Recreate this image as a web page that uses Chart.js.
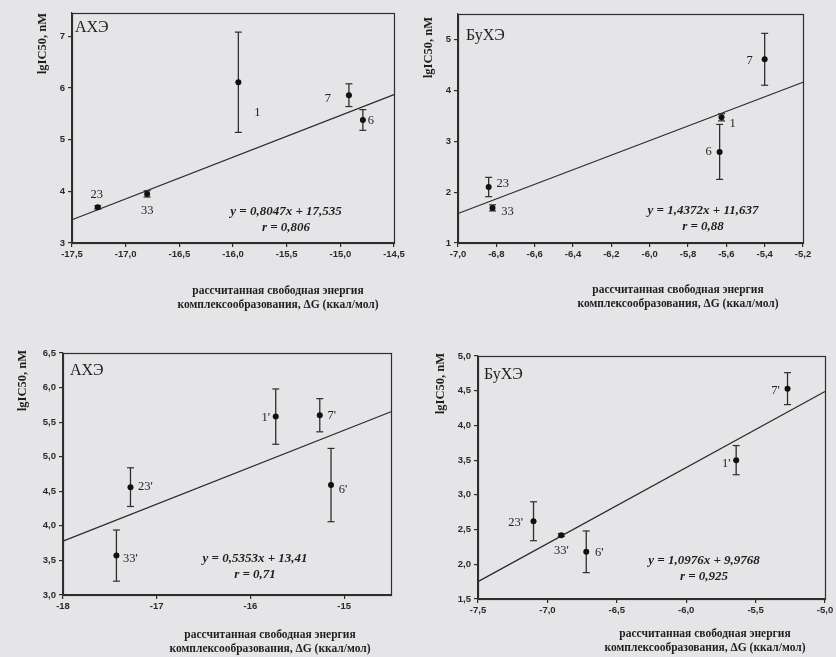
<!DOCTYPE html>
<html>
<head>
<meta charset="utf-8">
<script src="https://cdn.jsdelivr.net/npm/chart.js@4.4.0/dist/chart.umd.min.js"></script>
<style>
    html, body { margin: 0; padding: 0; background: #e5e5e7; }
    #page { position: relative; width: 836px; height: 657px; overflow: hidden; }
    canvas { position: absolute; }
</style>
</head>
<body>
<div id="page">
    <canvas id="c1" width="418" height="328" style="left:0;top:0"></canvas>
    <canvas id="c2" width="418" height="328" style="left:418px;top:0"></canvas>
    <canvas id="c3" width="418" height="329" style="left:0;top:328px"></canvas>
    <canvas id="c4" width="418" height="329" style="left:418px;top:328px"></canvas>
</div>
<script>
// top left: АХЭ
const aCompounds = ['23', '33', '1', '7', '6'];
const aEnergy = [-17.26, -16.80, -15.95, -14.92, -14.79];
const aLgIC50 = [3.69, 3.95, 6.11, 5.86, 5.38];
const aError = [0.03, 0.06, 0.97, 0.22, 0.20];
const aFitX = [-17.5, -14.5];
const aFitY = [3.45, 5.87];
const aXTicks = [-17.5, -17.0, -16.5, -16.0, -15.5, -15.0, -14.5];
const aYTicks = [3, 4, 5, 6, 7];
const aEquation = ['y = 0,8047x + 17,535', 'r = 0,806'];

// top right: БуХЭ
const bCompounds = ['7', '1', '6', '23', '33'];
const bEnergy = [-5.40, -5.625, -5.635, -6.84, -6.82];
const bLgIC50 = [4.61, 3.47, 2.79, 2.10, 1.69];
const bError = [0.51, 0.07, 0.54, 0.19, 0.06];
const bFitX = [-7.0, -5.2];
const bFitY = [1.58, 4.16];
const bXTicks = [-7.0, -6.8, -6.6, -6.4, -6.2, -6.0, -5.8, -5.6, -5.4, -5.2];
const bYTicks = [1, 2, 3, 4, 5];
const bEquation = ['y = 1,4372x + 11,637', 'r = 0,88'];

// bottom left: АХЭ, primed compounds
const cCompounds = ["33'", "23'", "1'", "7'", "6'"];
const cEnergy = [-17.43, -17.28, -15.73, -15.26, -15.14];
const cLgIC50 = [3.57, 4.56, 5.58, 5.60, 4.59];
const cError = [0.37, 0.28, 0.40, 0.24, 0.53];
const cFitX = [-18.0, -14.5];
const cFitY = [3.78, 5.65];
const cXTicks = [-18, -17, -16, -15];
const cYTicks = [3.0, 3.5, 4.0, 4.5, 5.0, 5.5, 6.0, 6.5];
const cEquation = ['y = 0,5353x + 13,41', 'r = 0,71'];

// bottom right: БуХЭ, primed compounds
const dCompounds = ["23'", "33'", "6'", "1'", "7'"];
const dEnergy = [-7.10, -6.90, -6.72, -5.64, -5.27];
const dLgIC50 = [2.62, 2.42, 2.18, 3.50, 4.53];
const dError = [0.28, 0.02, 0.30, 0.21, 0.23];
const dFitX = [-7.5, -5.0];
const dFitY = [1.75, 4.49];
const dXTicks = [-7.5, -7.0, -6.5, -6.0, -5.5, -5.0];
const dYTicks = [1.5, 2.0, 2.5, 3.0, 3.5, 4.0, 4.5, 5.0];
const dEquation = ['y = 1,0976x + 9,9768', 'r = 0,925'];

const yTitle = 'lgIC50, nM';
const xTitle = ['рассчитанная свободная энергия', 'комплексообразования, ΔG (ккал/мол)'];

const INK = '#1e1e1e';
const LINE = '#2e2e2e';
const SERIF = '"Liberation Serif", "Times New Roman", serif';
const SANS = '"Liberation Sans", Arial, sans-serif';

const panels = [
    {
        id: 'c1', name: 'АХЭ', names: aCompounds, x: aEnergy, y: aLgIC50, err: aError,
        fitX: aFitX, fitY: aFitY, xTicks: aXTicks, yTicks: aYTicks, eq: aEquation,
        xRange: [-17.5, -14.5], yRange: [3, 7.45], xDec: 1, yDec: 0,
        area: { l: 72, t: 13, r: 394, b: 243 },
        labelOff: [[-1, -13], [0, 17], [19, 30], [-21, 4], [8, 1]],
        namePos: [75, 28], eqPos: [286, 212], yTitlePos: [43, 13], xTitlePos: [278, 291]
    },
    {
        id: 'c2', name: 'БуХЭ', names: bCompounds, x: bEnergy, y: bLgIC50, err: bError,
        fitX: bFitX, fitY: bFitY, xTicks: bXTicks, yTicks: bYTicks, eq: bEquation,
        xRange: [-7.0, -5.2], yRange: [1, 5.5], xDec: 1, yDec: 0,
        area: { l: 40, t: 14, r: 385, b: 243 },
        labelOff: [[-15, 1], [11, 6], [-11, 0], [14, -3], [15, 4]],
        namePos: [48, 36], eqPos: [285, 211], yTitlePos: [11, 17], xTitlePos: [260, 290]
    },
    {
        id: 'c3', name: 'АХЭ', names: cCompounds, x: cEnergy, y: cLgIC50, err: cError,
        fitX: cFitX, fitY: cFitY, xTicks: cXTicks, yTicks: cYTicks, eq: cEquation,
        xRange: [-18, -14.5], yRange: [3.0, 6.5], xDec: 0, yDec: 1,
        area: { l: 63, t: 25, r: 391, b: 267 },
        labelOff: [[14, 3], [15, 0], [-10, 1], [12, 0], [12, 5]],
        namePos: [70, 43], eqPos: [255, 231], yTitlePos: [23, 22], xTitlePos: [270, 307]
    },
    {
        id: 'c4', name: 'БуХЭ', names: dCompounds, x: dEnergy, y: dLgIC50, err: dError,
        fitX: dFitX, fitY: dFitY, xTicks: dXTicks, yTicks: dYTicks, eq: dEquation,
        xRange: [-7.5, -5.0], yRange: [1.5, 5.0], xDec: 1, yDec: 1,
        area: { l: 60, t: 28, r: 407, b: 271 },
        labelOff: [[-18, 1], [0, 16], [13, 1], [-10, 4], [-12, 2]],
        namePos: [66, 47], eqPos: [286, 233], yTitlePos: [23, 25], xTitlePos: [287, 306]
    }
];

function fmt(dec) {
    return (v) => Number(v).toFixed(dec).replace('.', ',');
}

const decor = {
    id: 'decor',
    afterDraw(chart) {
        const p = chart.config.options.panel;
        const ctx = chart.ctx;
        const xs = chart.scales.x, ys = chart.scales.y;
        const ca = chart.chartArea;
        ctx.save();
        // full box frame
        ctx.strokeStyle = LINE;
        ctx.lineWidth = 1.2;
        ctx.strokeRect(Math.round(ca.left) + 0.5, Math.round(ca.top) + 0.5,
            Math.round(ca.right - ca.left), Math.round(ca.bottom - ca.top));

        ctx.fillStyle = INK;
        // enzyme name
        ctx.font = '16px ' + SERIF;
        ctx.textAlign = 'left';
        ctx.textBaseline = 'middle';
        ctx.fillText(p.name, p.namePos[0], p.namePos[1]);

        // compound numbers next to points
        ctx.font = '12.5px ' + SERIF;
        ctx.textAlign = 'center';
        p.names.forEach((n, i) => {
            const px = xs.getPixelForValue(p.x[i]) + p.labelOff[i][0];
            const py = ys.getPixelForValue(p.y[i]) + p.labelOff[i][1];
            ctx.fillText(n, px, py);
        });

        // regression equation
        ctx.font = 'italic bold 13px ' + SERIF;
        ctx.fillText(p.eq[0], p.eqPos[0], p.eqPos[1]);
        ctx.fillText(p.eq[1], p.eqPos[0], p.eqPos[1] + 16);

        // x axis title
        ctx.font = 'bold 11.5px ' + SERIF;
        ctx.fillText(xTitle[0], p.xTitlePos[0], p.xTitlePos[1]);
        ctx.fillText(xTitle[1], p.xTitlePos[0], p.xTitlePos[1] + 14);

        // y axis title, top aligned
        ctx.translate(p.yTitlePos[0], p.yTitlePos[1]);
        ctx.rotate(-Math.PI / 2);
        ctx.font = 'bold 12.5px ' + SERIF;
        ctx.textAlign = 'right';
        ctx.fillText(yTitle, 0, 0);
        ctx.restore();
    }
};

function makeChart(p) {
    const canvas = document.getElementById(p.id);
    const W = canvas.width, H = canvas.height;
    const yW = 30, xH = 20;
    const a = p.area;

    const points = p.x.map((v, i) => ({ x: v, y: p.y[i] }));
    const datasets = [{
        data: points,
        pointRadius: 3,
        pointBackgroundColor: '#111',
        pointBorderWidth: 0
    }];
    p.x.forEach((v, i) => {
        datasets.push({
            data: [{ x: v, y: p.y[i] - p.err[i] }, { x: v, y: p.y[i] + p.err[i] }],
            showLine: true,
            borderColor: LINE,
            borderWidth: 1.3,
            pointStyle: 'line',
            pointRadius: 3.5,
            pointBorderColor: LINE,
            pointBorderWidth: 1.2
        });
    });
    datasets.push({
        data: p.fitX.map((v, i) => ({ x: v, y: p.fitY[i] })),
        showLine: true,
        borderColor: '#2a2a2a',
        borderWidth: 1.2,
        pointRadius: 0
    });

    const tickFont = { family: SANS, size: 9.5, weight: 'bold' };
    const grid = { drawOnChartArea: false, drawTicks: true, tickLength: 4, color: LINE, lineWidth: 1.2 };
    const border = { display: true, color: LINE, width: 1.2 };

    return new Chart(canvas, {
        type: 'scatter',
        data: { datasets },
        options: {
            panel: p,
            responsive: false,
            animation: false,
            devicePixelRatio: 1,
            events: [],
            clip: false,
            layout: { padding: { left: a.l - yW, top: a.t, right: W - a.r, bottom: H - a.b - xH } },
            plugins: { legend: { display: false }, tooltip: { enabled: false } },
            scales: {
                x: {
                    type: 'linear',
                    min: p.xRange[0],
                    max: p.xRange[1],
                    afterBuildTicks: (s) => { s.ticks = p.xTicks.map((v) => ({ value: v })); },
                    afterFit: (s) => { s.height = xH; s.paddingLeft = 0; s.paddingRight = 0; },
                    ticks: { callback: fmt(p.xDec), autoSkip: false, maxRotation: 0, padding: 2, font: tickFont, color: '#2a2a2a' },
                    grid, border
                },
                y: {
                    type: 'linear',
                    min: p.yRange[0],
                    max: p.yRange[1],
                    afterBuildTicks: (s) => { s.ticks = p.yTicks.map((v) => ({ value: v })); },
                    afterFit: (s) => { s.width = yW; s.paddingTop = 0; s.paddingBottom = 0; },
                    ticks: { callback: fmt(p.yDec), autoSkip: false, padding: 3, font: tickFont, color: '#2a2a2a' },
                    grid, border
                }
            }
        },
        plugins: [decor]
    });
}

panels.forEach(makeChart);
</script>
</body>
</html>
